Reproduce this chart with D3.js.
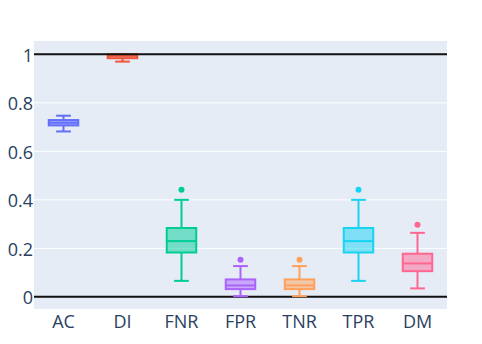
<!DOCTYPE html>
<html>
<head>
<meta charset="utf-8">
<script src="https://cdn.jsdelivr.net/npm/d3@7"></script>
<style>
  body { margin: 0; background: #fff; }
  text { font-family: "Open Sans", sans-serif; }
</style>
</head>
<body>
<div id="chart"></div>
<script>
// box stats
var categories = ["AC", "DI", "FNR", "FPR", "TNR", "TPR", "DM"];
var lowerFence = [0.682, 0.970, 0.066, 0.003, 0.003, 0.066, 0.035];
var q1 = [0.707, 0.984, 0.183, 0.032, 0.032, 0.183, 0.106];
var median = [0.718, 0.994, 0.230, 0.047, 0.047, 0.230, 0.138];
var q3 = [0.729, 1.0, 0.284, 0.072, 0.072, 0.284, 0.178];
var upperFence = [0.747, 1.0, 0.400, 0.127, 0.127, 0.400, 0.264];
var outliers = [[], [], [0.442], [0.153], [0.153], [0.442], [0.297]];
var colors = ["#636efa", "#EF553B", "#00cc96", "#ab63fa", "#FFA15A", "#19d3f3", "#FF6692"];
var yTicks = [0, 0.2, 0.4, 0.6, 0.8, 1];

const W = 482, H = 344;
const margin = {top: 41, bottom: 35, left: 34, right: 35};

var svg = d3.select("#chart").append("svg")
  .attr("width", W)
  .attr("height", H);

var x = d3.scaleBand()
  .domain(categories)
  .range([margin.left, W - margin.right])
  .padding(0);

var y = d3.scaleLinear()
  .domain([-0.05, 1.055])
  .range([H - margin.bottom, margin.top]);

// plot background
svg.append("rect")
  .attr("x", margin.left)
  .attr("y", margin.top)
  .attr("width", W - margin.left - margin.right)
  .attr("height", H - margin.top - margin.bottom)
  .attr("fill", "#E5ECF6");

// gridlines
svg.append("g")
  .selectAll("line")
  .data(yTicks.filter(d => d != 0 && d != 1))
  .enter()
  .append("line")
  .attr("x1", margin.left)
  .attr("x2", W - margin.right)
  .attr("y1", d => y(d))
  .attr("y2", d => y(d))
  .attr("stroke", "#fff")
  .attr("stroke-width", 1);

// y axis labels
var yAxis = d3.axisLeft(y).tickValues(yTicks).tickSize(0).tickPadding(1)
  .tickFormat(d3.format("~g"));
svg.append("g")
  .attr("transform", "translate(" + margin.left + ",1)")
  .call(yAxis)
  .call(g => g.select(".domain").remove())
  .selectAll("text")
  .attr("font-size", 18)
  .attr("fill", "#2a3f5f")
  .attr("font-family", "Open Sans");

// x axis labels
var xAxis = d3.axisBottom(x).tickSize(0).tickPadding(6);
svg.append("g")
  .attr("transform", "translate(0," + (H - margin.bottom) + ")")
  .call(xAxis)
  .call(g => g.select(".domain").remove())
  .selectAll("text")
  .attr("font-size", 18)
  .attr("fill", "#2a3f5f")
  .attr("font-family", "Open Sans");

// zero line
svg.append("line")
  .attr("x1", margin.left).attr("x2", W - margin.right)
  .attr("y1", y(0)).attr("y2", y(0))
  .attr("stroke", "#111").attr("stroke-width", 2);

// boxes
var bw = x.bandwidth() * 0.5;
var boxes = svg.append("g")
  .selectAll("g")
  .data(categories)
  .enter()
  .append("g");

boxes.each(function(c, i) {
  var g = d3.select(this);
  var cx = x(c) + x.bandwidth() / 2;
  var col = colors[i];
  // whisker stem
  g.append("line")
    .attr("x1", cx).attr("x2", cx)
    .attr("y1", y(lowerFence[i])).attr("y2", y(q1[i]))
    .attr("stroke", col).attr("stroke-width", 2);
  g.append("line")
    .attr("x1", cx).attr("x2", cx)
    .attr("y1", y(q3[i])).attr("y2", y(upperFence[i]))
    .attr("stroke", col).attr("stroke-width", 2);
  // caps
  [lowerFence[i], upperFence[i]].forEach(v => {
    g.append("line")
      .attr("x1", cx - bw / 4).attr("x2", cx + bw / 4)
      .attr("y1", y(v)).attr("y2", y(v))
      .attr("stroke", col).attr("stroke-width", 2);
  });
  // box
  g.append("rect")
    .attr("x", cx - bw / 2)
    .attr("y", y(q3[i]))
    .attr("width", bw)
    .attr("height", y(q1[i]) - y(q3[i]))
    .attr("fill", col).attr("fill-opacity", 0.5)
    .attr("stroke", col).attr("stroke-width", 2);
  // median
  g.append("line")
    .attr("x1", cx - bw / 2).attr("x2", cx + bw / 2)
    .attr("y1", y(median[i])).attr("y2", y(median[i]))
    .attr("stroke", col).attr("stroke-width", 2);
  // outliers
  g.selectAll("circle")
    .data(outliers[i])
    .enter()
    .append("circle")
    .attr("cx", cx)
    .attr("cy", d => y(d))
    .attr("r", 3)
    .attr("fill", col);
});

// reference line at 1
svg.append("line")
  .attr("x1", margin.left).attr("x2", W - margin.right)
  .attr("y1", y(1)).attr("y2", y(1))
  .attr("stroke", "#111").attr("stroke-width", 2);
</script>
</body>
</html>
